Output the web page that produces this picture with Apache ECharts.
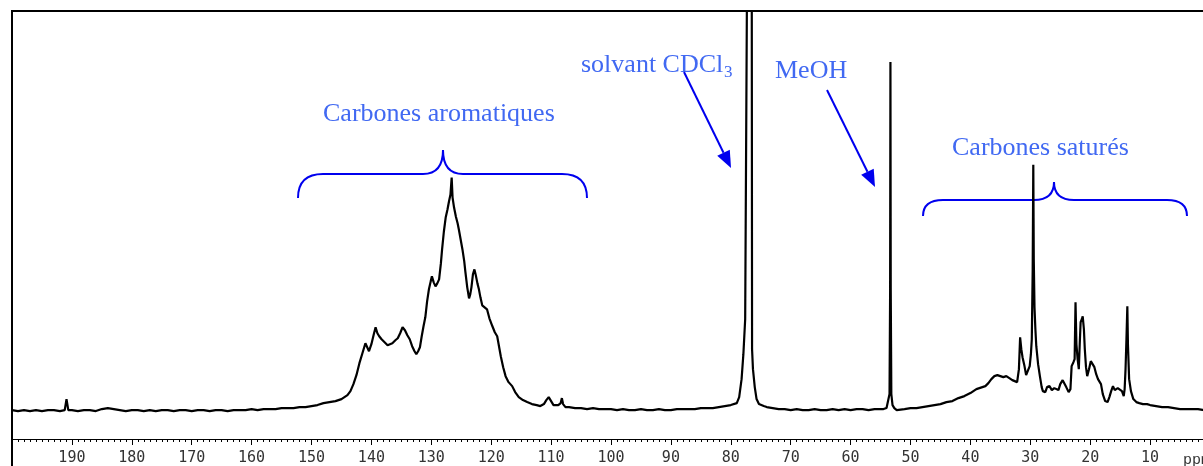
<!DOCTYPE html>
<html>
<head>
<meta charset="utf-8">
<script src="https://cdn.jsdelivr.net/npm/echarts@6/dist/echarts.min.js"></script>
<style>
html,body{margin:0;padding:0;background:#fff;overflow:hidden;width:1203px;height:466px;}
#c{width:1213px;height:466px;}
</style>
</head>
<body>
<div id="c"></div>
<script>
// Chemical shift (ppm) and intensity (arbitrary units)
const ppm = [
200,199,198,197,196,195,194,193,192,191.2,190.9,190.6,190,189,188,187,186,185,184,183,182,181,180,179,178,177,176,175,174,173,172,171,170,169,168,167,166,165,164,163,162,161,160,159,158,157,156,155,154,153,152,151,150,149,148,147,146,145,144.5,144,143.5,143,142.5,142,141.5,141,140.7,140.4,140,139.6,139.3,139,138.7,138.3,137.8,137.3,137,136.5,136,135.6,135.2,134.8,134.4,134,133.6,133.2,132.8,132.5,132.2,131.9,131.6,131.3,131,130.7,130.4,130.1,129.9,129.6,129.3,129,128.7,128.4,128.2,127.9,127.6,127.3,127.05,126.8,126.6,126.45,126.2,125.9,125.6,125.4,125.1,124.8,124.5,124.3,124,123.7,123.5,123.3,123.05,122.8,122.6,122.3,122.05,121.8,121.5,121.1,120.7,120.3,119.8,119.4,119,118.7,118.4,118,117.6,117.1,116.5,116,115.4,114.7,114,113.2,112.4,111.8,111.2,110.8,110.4,110,109.6,109.3,108.8,108.4,108.2,108,107.6,107,106,105,104,103,102,101,100,99,98,97,96,95,94,93,92,91,90,89,88,87,86,85,84,83,82,81,80,79,78.6,78.2,77.9,77.6,77.3,77.2,76.6,76.5,76.45,76.3,76,75.7,75.3,75,74.5,74,73,72,71,70,69,68,67,66,65,64,63,62,61,60,59,58,57,56,55,54.5,54,53.7,53.5,53.4,53.35,53.3,53.2,53,52.7,52.3,52,51,50,49,48,47,46,45,44,43,42,41,40,39.5,39,38.5,38,37.5,37,36.5,36,35.5,35,34.5,34,33.5,33,32.6,32.2,31.9,31.7,31.5,31.3,31,30.7,30.4,30.1,29.9,29.75,29.6,29.5,29.42,29.3,29.15,29,28.7,28.4,28.1,27.9,27.5,27.2,26.8,26.4,26,25.7,25.3,25,24.6,24.3,24,23.6,23.3,23.1,22.8,22.6,22.45,22.3,22.1,21.9,21.75,21.6,21.4,21.25,21.05,20.9,20.7,20.5,20.2,19.9,19.6,19.3,19,18.7,18.4,18.2,17.9,17.5,17.1,16.8,16.5,16.2,15.9,15.6,15.4,15.1,14.7,14.4,14.25,14.1,13.95,13.8,13.7,13.5,13.2,12.8,12.3,11.8,11.2,10.5,10,9,8,7,6,5,4,3,2,1,0
];
const intensity = [
29,28,29,28,29,28,29,29,28,29,40,29,29,28,29,29,28,30,31,30,29,28,29,29,28,29,28,29,29,28,29,29,28,29,29,28,29,29,28,29,29,29,30,29,30,30,30,31,31,31,32,32,33,34,36,37,38,40,42,44,48,55,64,76,86,96,95,88,95,105,112,106,103,100,97,94,92,96,99,101,106,112,109,104,100,93,88,85,88,92,103,113,122,138,150,158,163,157,153,156,160,176,190,208,222,230,238,245,262,242,232,223,216,210,200,190,178,167,152,141,145,152,165,170,165,156,150,142,134,132,130,121,113,107,103,93,83,72,63,57,53,47,42,39,37,35,34,33,35,39,42,38,34,33,34,36,41,35,32,32,31,31,30,31,30,30,30,29,30,29,29,30,29,29,30,29,29,30,30,30,30,31,31,31,32,33,34,36,42,60,85,120,450,1500,1500,450,90,70,52,40,35,33,33,32,31,30,30,29,30,29,29,30,29,29,30,29,30,29,30,30,29,30,30,30,31,33,45,150,378,150,45,34,31,29,30,30,31,31,32,33,34,35,37,38,41,43,46,48,50,51,52,53,56,60,63,64,63,62,63,61,59,58,57,70,102,90,82,74,64,66,73,85,100,170,275,180,132,110,93,75,63,52,48,47,52,53,49,51,50,49,55,59,60,52,47,50,73,77,80,137,95,80,70,95,117,120,123,110,90,72,63,70,78,75,72,65,60,58,55,45,38,37,42,48,53,49,47,51,52,48,43,50,70,100,133,95,60,48,40,37,36,35,35,34,33,32,32,31,30,30,30,30,29,29,29
];
const tickLabels = ['190','180','170','160','150','140','130','120','110','100','90','80','70','60','50','40','30','20','10'];
const unitLabel = 'ppm';
const labels = {
  arom: 'Carbones aromatiques',
  solvent: 'solvant CDCl',
  solventSub: '3',
  meoh: 'MeOH',
  sat: 'Carbones saturés'
};

const data = ppm.map((p, i) => [p, intensity[i]]);

const chart = echarts.init(document.getElementById('c'), null, {renderer: 'canvas'});

const TXT = '#4169f2';
const BLUE = '#0000ee';
const serif = '"Liberation Serif", "Times New Roman", serif';

function arrow(x1, y1, x2, y2) {
  const dx = x2 - x1, dy = y2 - y1, L = Math.hypot(dx, dy);
  const ux = dx / L, uy = dy / L, nx = -uy, ny = ux;
  const hl = 17, hw = 7;
  const bx = x2 - hl * ux, by = y2 - hl * uy;
  return [
    {type: 'line', shape: {x1, y1, x2: bx, y2: by}, style: {stroke: BLUE, lineWidth: 2}},
    {type: 'polygon', shape: {points: [[x2, y2], [bx + hw * nx, by + hw * ny], [bx - hw * nx, by - hw * ny]]}, style: {fill: BLUE}}
  ];
}
function brace(xl, xc, xr, yEnd, yH, yTop, r) {
  const st = {stroke: BLUE, lineWidth: 2, fill: null};
  return [
    {type: 'bezierCurve', shape: {x1: xl, y1: yEnd, cpx1: xl, cpy1: yH, x2: xl + r, y2: yH}, style: st},
    {type: 'line', shape: {x1: xl + r, y1: yH, x2: xc - 20, y2: yH}, style: st},
    {type: 'bezierCurve', shape: {x1: xc - 20, y1: yH, cpx1: xc, cpy1: yH, x2: xc, y2: yTop}, style: st},
    {type: 'bezierCurve', shape: {x1: xc, y1: yTop, cpx1: xc, cpy1: yH, x2: xc + 20, y2: yH}, style: st},
    {type: 'line', shape: {x1: xc + 20, y1: yH, x2: xr - r, y2: yH}, style: st},
    {type: 'bezierCurve', shape: {x1: xr - r, y1: yH, cpx1: xr, cpy1: yH, x2: xr, y2: yEnd}, style: st}
  ];
}
function txt(x, y, text, size) {
  return {type: 'text', x, y, style: {text, fill: TXT, font: size + 'px ' + serif, textAlign: 'left', textVerticalAlign: 'middle'}};
}

const graphics = [
  {type: 'line', shape: {x1: 12, y1: 11, x2: 12, y2: 466}, style: {stroke: '#000', lineWidth: 2}},
  {type: 'line', shape: {x1: 11, y1: 11, x2: 1213, y2: 11}, style: {stroke: '#000', lineWidth: 2}},
  txt(323, 114, labels.arom, 26),
  txt(581, 65, labels.solvent, 26),
  txt(724, 73, labels.solventSub, 17),
  txt(775, 71, labels.meoh, 26),
  txt(952, 148, labels.sat, 26),
  {type: 'text', x: 1183, y: 460, style: {text: unitLabel, fill: '#333', font: '15px "Liberation Mono", "Courier New", monospace', textAlign: 'left', textVerticalAlign: 'middle'}},
  ...brace(298, 443, 587, 198, 174, 150, 25),
  ...brace(923, 1054, 1187, 216, 200, 182, 20),
  ...arrow(684, 72, 731, 168),
  ...arrow(827, 90, 875, 187)
];

chart.setOption({
  animation: false,
  backgroundColor: '#fff',
  grid: {left: 12, right: 1, top: 11, bottom: 26, containLabel: false},
  xAxis: {
    type: 'value', inverse: true, min: 0, max: 200, interval: 10,
    axisLine: {show: true, onZero: false, lineStyle: {color: '#000', width: 1}},
    axisTick: {show: true, length: 6, lineStyle: {color: '#000'}},
    minorTick: {show: true, splitNumber: 10, length: 3, lineStyle: {color: '#000'}},
    splitLine: {show: false},
    axisLabel: {
      margin: 12, color: '#333', fontFamily: '"DejaVu Sans Mono", monospace', fontSize: 15,
      formatter: v => (tickLabels.indexOf(String(v)) >= 0 ? String(v) : '')
    }
  },
  yAxis: {type: 'value', min: 0, max: 429, show: false, splitLine: {show: false}},
  series: [{
    type: 'line', data, showSymbol: false, clip: true,
    lineStyle: {color: '#000', width: 2.2}, silent: true
  }],
  graphic: graphics
});
</script>
</body>
</html>
